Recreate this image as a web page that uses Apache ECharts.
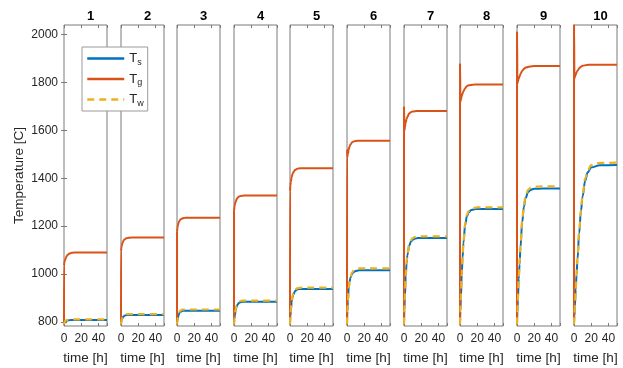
<!DOCTYPE html>
<html>
<head>
<meta charset="utf-8">
<script src="https://cdn.jsdelivr.net/npm/echarts@6/dist/echarts.min.js"></script>
<style>
  html, body { margin: 0; padding: 0; background: #fff; }
  #chart { width: 623px; height: 368px; }
</style>
</head>
<body>
<div id="chart"></div>
<script>
// Case labels shown above each panel
const CASES = ['1', '2', '3', '4', '5', '6', '7', '8', '9', '10'];

// Sample times [h] for the solid/wall temperatures and for the gas temperature
const TIME_S = [0, 0.5, 1, 2, 3, 4, 6, 8, 10, 13, 16, 20, 30, 50];
const TIME_G = [0, 0.05, 0.5, 1, 2, 3, 4, 6, 8, 10, 15, 20, 50];

// Solid temperature T_s [C], one row per case (matches TIME_S)
const T_SOLID = [
  [790, 797, 800, 803, 805, 806, 807, 808, 808, 808, 808, 808, 808, 808],
  [790, 803, 810, 818, 823, 826, 828, 829, 829, 829, 829, 829, 829, 829],
  [790, 806, 816, 830, 838, 842, 846, 847, 847, 847, 847, 847, 847, 847],
  [790, 812, 828, 850, 864, 872, 880, 883, 884, 884, 884, 884, 884, 884],
  [790, 825, 850, 884, 904, 916, 929, 935, 937, 938, 938, 938, 938, 938],
  [790, 845, 885, 940, 968, 984, 1001, 1009, 1013, 1015, 1016, 1016, 1016, 1016],
  [790, 850, 905, 990, 1045, 1080, 1118, 1135, 1143, 1148, 1150, 1150, 1150, 1150],
  [790, 845, 900, 995, 1070, 1130, 1205, 1240, 1257, 1267, 1270, 1272, 1272, 1272],
  [790, 840, 890, 980, 1040, 1110, 1215, 1280, 1318, 1343, 1352, 1356, 1357, 1357],
  [790, 825, 865, 935, 1000, 1060, 1170, 1260, 1325, 1390, 1425, 1445, 1454, 1455]
];

// Gas temperature T_g [C], one row per case (matches TIME_G)
const T_GAS = [
  [790, 1035, 1048, 1055, 1066, 1074, 1079, 1085, 1088, 1089, 1090, 1090, 1090],
  [790, 1095, 1110, 1120, 1132, 1140, 1144, 1149, 1151, 1152, 1153, 1153, 1153],
  [790, 1175, 1192, 1202, 1215, 1223, 1228, 1232, 1234, 1235, 1235, 1235, 1235],
  [790, 1262, 1280, 1290, 1303, 1312, 1318, 1324, 1326, 1327, 1328, 1328, 1328],
  [790, 1345, 1370, 1385, 1405, 1418, 1426, 1435, 1439, 1441, 1442, 1442, 1442],
  [790, 1520, 1490, 1500, 1520, 1533, 1541, 1550, 1554, 1556, 1557, 1557, 1557],
  [790, 1698, 1600, 1612, 1632, 1647, 1657, 1670, 1676, 1679, 1681, 1681, 1681],
  [790, 1877, 1720, 1728, 1742, 1754, 1763, 1776, 1784, 1788, 1791, 1792, 1792],
  [790, 2011, 1796, 1803, 1815, 1826, 1835, 1848, 1857, 1862, 1867, 1869, 1869],
  [790, 2040, 1817, 1823, 1833, 1842, 1849, 1859, 1866, 1870, 1873, 1874, 1874]
];

// Wall temperature T_w [C], one row per case (matches TIME_S)
const T_WALL = [
  [790, 798, 802, 806, 808, 809, 810, 811, 811, 811, 811, 811, 811, 811],
  [790, 804, 812, 821, 827, 830, 832, 833, 833, 833, 833, 833, 833, 833],
  [790, 807, 818, 833, 842, 847, 851, 852, 852, 852, 852, 852, 852, 852],
  [790, 813, 830, 853, 868, 877, 885, 888, 889, 889, 889, 889, 889, 889],
  [790, 826, 852, 888, 909, 921, 934, 940, 942, 943, 943, 943, 943, 943],
  [790, 846, 887, 943, 972, 989, 1007, 1016, 1020, 1023, 1024, 1024, 1024, 1024],
  [790, 851, 907, 993, 1049, 1085, 1124, 1141, 1150, 1155, 1157, 1157, 1157, 1157],
  [790, 846, 902, 998, 1074, 1135, 1211, 1246, 1263, 1273, 1276, 1278, 1278, 1278],
  [790, 841, 892, 983, 1044, 1115, 1222, 1288, 1327, 1352, 1361, 1365, 1366, 1366],
  [790, 826, 867, 938, 1004, 1065, 1176, 1267, 1333, 1399, 1434, 1455, 1464, 1465]
];

// Axis ticks
const X_TICKS = [0, 20, 40];
const Y_TICKS = [800, 1000, 1200, 1400, 1600, 1800, 2000];

const COLORS = { s: '#0072BD', g: '#D95319', w: '#EDB120' };
const TEXT = '#262626';
const BOX = '#7a7a7a';
const FONT = 'Liberation Sans, Arial, sans-serif';

const Y_MIN = 783, Y_MAX = 2040;
const PANEL_LEFT = [64, 121, 177, 234, 290, 347, 404, 460, 517, 574];
const PANEL_W = 43, PANEL_TOP = 25, PANEL_H = 301;

const pairs = (ts, vs) => ts.map((t, i) => [t, vs[i]]);
const plain = v => String(v);

const grid = [], xAxis = [], yAxis = [], series = [], title = [];

CASES.forEach((label, i) => {
  grid.push({
    left: PANEL_LEFT[i], top: PANEL_TOP, width: PANEL_W, height: PANEL_H,
    outerBoundsMode: 'none', containLabel: false,
    show: true, borderColor: BOX, borderWidth: 1, backgroundColor: '#fff'
  });
  title.push({
    text: label,
    left: PANEL_LEFT[i] + PANEL_W / 2, top: 5, textAlign: 'center',
    textStyle: { fontFamily: FONT, fontSize: 13, fontWeight: 'bold', color: '#000' }
  });

  const xBase = {
    gridIndex: i, type: 'value', min: 0, max: 50, interval: 20,
    axisLine: { show: false }, splitLine: { show: false },
    axisTick: { show: true, inside: true, length: 3, lineStyle: { color: BOX } }
  };
  xAxis.push(Object.assign({}, xBase, {
    position: 'bottom',
    name: 'time [h]', nameLocation: 'middle', nameGap: 25,
    nameTextStyle: { fontFamily: FONT, fontSize: 13.5, color: TEXT },
    axisLabel: { show: true, margin: 7, fontFamily: FONT, fontSize: 12, color: TEXT,
                 customValues: X_TICKS, formatter: plain }
  }));
  xAxis.push(Object.assign({}, xBase, { position: 'top', axisLabel: { show: false } }));

  const first = i === 0;
  const yBase = {
    gridIndex: i, type: 'value', min: Y_MIN, max: Y_MAX,
    axisLine: { show: false }, splitLine: { show: false },
    axisTick: { show: first, inside: true, length: 3, customValues: Y_TICKS,
                lineStyle: { color: BOX } }
  };
  yAxis.push(Object.assign({}, yBase, {
    position: 'left',
    name: first ? 'Temperature [C]' : '', nameLocation: 'middle', nameGap: 38,
    nameRotate: 90,
    nameTextStyle: { fontFamily: FONT, fontSize: 13.5, color: TEXT },
    axisLabel: { show: first, margin: 6, fontFamily: FONT, fontSize: 12, color: TEXT,
                 customValues: Y_TICKS, formatter: plain }
  }));
  yAxis.push(Object.assign({}, yBase, { position: 'right', axisLabel: { show: false } }));

  const xi = i * 2, yi = i * 2;
  const common = { type: 'line', xAxisIndex: xi, yAxisIndex: yi, showSymbol: false,
                   symbol: 'none', smooth: 0.4, smoothMonotone: 'x', animation: false };
  series.push(Object.assign({}, common, {
    name: 'Ts', data: pairs(TIME_S, T_SOLID[i]),
    lineStyle: { color: COLORS.s, width: 2 }, itemStyle: { color: COLORS.s }
  }));
  series.push(Object.assign({}, common, {
    name: 'Tg', data: pairs(TIME_G, T_GAS[i]),
    lineStyle: { color: COLORS.g, width: 2 }, itemStyle: { color: COLORS.g }
  }));
  series.push(Object.assign({}, common, {
    name: 'Tw', data: pairs(TIME_S, T_WALL[i]),
    lineStyle: { color: COLORS.w, width: 2.2, type: [7, 5] }, itemStyle: { color: COLORS.w }
  }));
});

const chart = echarts.init(document.getElementById('chart'), null, { renderer: 'canvas' });
chart.setOption({
  backgroundColor: '#fff',
  animation: false,
  title: title,
  legend: {
    data: ['Ts', 'Tg', 'Tw'],
    orient: 'vertical',
    left: 82, top: 47,
    padding: [5, 4, 3, 4],
    itemWidth: 37, itemHeight: 14, itemGap: 5.5,
    backgroundColor: '#fff', borderColor: '#9a9a9a', borderWidth: 1,
    selectedMode: false,
    // line-only keys: hide the marker that line series add to their legend icon
    itemStyle: { opacity: 0 },
    lineStyle: { width: 2.5 },
    formatter: name => '{b|T}{sub|' + name.slice(1) + '}',
    textStyle: {
      rich: {
        b: { fontFamily: FONT, fontSize: 13, color: TEXT, lineHeight: 17 },
        sub: { fontFamily: FONT, fontSize: 9, color: TEXT, lineHeight: 9, verticalAlign: 'bottom' }
      }
    }
  },
  grid: grid,
  xAxis: xAxis,
  yAxis: yAxis,
  series: series
});
</script>
</body>
</html>
